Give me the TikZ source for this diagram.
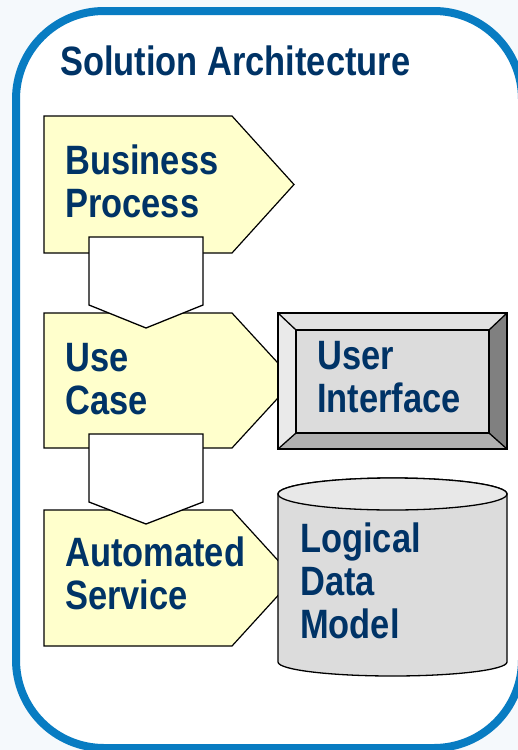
\documentclass[tikz,border=0pt]{standalone}
\usepackage{fontspec}
\setmainfont[FakeStretch=0.84]{Liberation Sans}
\usepackage{tikz}
\definecolor{frameblue}{RGB}{8,124,194}
\definecolor{pagetint}{RGB}{245,249,252}
\definecolor{navytext}{RGB}{0,51,102}
\definecolor{stepyellow}{RGB}{255,255,204}
\definecolor{bevelface}{RGB}{220,220,220}
\definecolor{beveltop}{RGB}{226,226,226}
\definecolor{bevelleft}{RGB}{234,234,234}
\definecolor{bevelright}{RGB}{128,128,128}
\definecolor{bevelbottom}{RGB}{176,176,176}
\definecolor{drumtop}{RGB}{232,232,232}

\begin{document}
\begin{tikzpicture}[x=1pt,y=-1pt,
		label/.style={inner sep=0pt, text=navytext, align=left, anchor=base west,
			font=\bfseries\fontsize{41}{43}\selectfont},
		stage/.style={draw=black, line width=1.2pt, fill=stepyellow},
		flow/.style={draw=black, line width=1.3pt, fill=white},
		edge/.style={draw=black, line width=1.3pt}]
		\useasboundingbox (0,0) rectangle (518,750);
		\clip (0,0) rectangle (518,750);
		\fill[pagetint] (0,0) rectangle (518,750);
		\draw[frameblue, line width=8pt, fill=white, rounded corners=88pt] (16,11) rectangle (522,748);
		\node[label] (title) at (60,75) {Solution Architecture};

		\path[stage] (44,116) -- (232,116) -- (294,184.5) -- (232,253) -- (44,253) -- cycle;
		\path[stage] (44,313) -- (232,313) -- (294,380.5) -- (232,448) -- (44,448) -- cycle;
		\path[stage] (44,510) -- (232,510) -- (294,578) -- (232,646) -- (44,646) -- cycle;

		\path[flow] (89,237) -- (203,237) -- (203,305) -- (146,328) -- (89,305) -- cycle;
		\path[flow] (89,434) -- (203,434) -- (203,502) -- (146,524) -- (89,502) -- cycle;

		\node[label] (busproc) at (65,217) {Business\\Process};
		\node[label] (usecase) at (65,414) {Use\\Case};
		\node[label] (autoserv) at (65,609) {Automated\\Service};

		\coordinate (uiA) at (278,313);
		\coordinate (uiB) at (507,313);
		\coordinate (uiC) at (507,449);
		\coordinate (uiD) at (278,449);
		\coordinate (uia) at (296,330);
		\coordinate (uib) at (489,330);
		\coordinate (uic) at (489,433);
		\coordinate (uid) at (296,433);
		\fill[beveltop] (uiA) -- (uiB) -- (uib) -- (uia) -- cycle;
		\fill[bevelright] (uiB) -- (uiC) -- (uic) -- (uib) -- cycle;
		\fill[bevelbottom] (uiC) -- (uiD) -- (uid) -- (uic) -- cycle;
		\fill[bevelleft] (uiD) -- (uiA) -- (uia) -- (uid) -- cycle;
		\path[edge, fill=bevelface] (uia) rectangle (uic);
		\path[edge] (uiA) rectangle (uiC);
		\path[edge] (uiA) -- (uia) (uiB) -- (uib) (uiC) -- (uic) (uiD) -- (uid);
		\node[label] (userif) at (317,412) {User\\Interface};

		\path[edge, fill=bevelface] (278,494) -- (278,662) arc[start angle=180, end angle=360, x radius=114.5, y radius=-14]
			-- (507,494) arc[start angle=0, end angle=180, x radius=114.5, y radius=-16] -- cycle;
		\path[edge, fill=drumtop] (392.5,494) ellipse[x radius=114.5, y radius=16];
		\node[label] (datamodel) at (300,638) {Logical\\Data\\Model};
	\end{tikzpicture}
\end{document}
